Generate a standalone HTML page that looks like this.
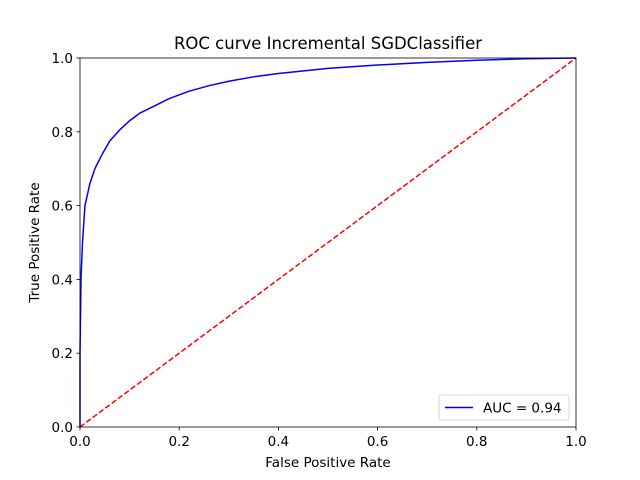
<!DOCTYPE html>
<html><head><meta charset="utf-8"><style>body{margin:0;background:#fff}svg{display:block}text{font-family:"DejaVu Sans","Liberation Sans",sans-serif}</style></head>
<body>
<svg id="chart" width="640" height="480"></svg>
<script>
const fprValues=[0,0,0.002,0.005,0.01,0.02,0.03,0.045,0.06,0.08,0.1,0.12,0.15,0.18,0.22,0.26,0.3,0.35,0.4,0.5,0.6,0.7,0.8,0.9,1];
const tprValues=[0,0.2,0.4,0.5,0.6,0.66,0.7,0.74,0.775,0.805,0.83,0.85,0.87,0.89,0.91,0.925,0.937,0.949,0.958,0.972,0.981,0.988,0.994,0.998,1];
const tickValues=[0,0.2,0.4,0.6,0.8,1];
const tickLabels=["0.0","0.2","0.4","0.6","0.8","1.0"];
const aucLabel="AUC = 0.94";
const L=80,R=576,T=58,B=427;
const sx=v=>L+v*(R-L), sy=v=>B-v*(B-T);
const svg=document.getElementById('chart');
const NS='http://www.w3.org/2000/svg';
function mk(tag,attrs,parent){const e=document.createElementNS(NS,tag);for(const k in attrs)e.setAttribute(k,attrs[k]);(parent||svg).appendChild(e);return e;}
let e;
e=mk('rect',{x:L,y:T,width:R-L,height:B-T,fill:'#fff'});


e=mk('line',{x1:sx(0),y1:sy(0),x2:sx(1),y2:sy(1),stroke:'red','stroke-width':1.5,'stroke-dasharray':'5.5,2.4'});


e=mk('polyline',{points:fprValues.map((f,i)=>sx(f)+','+sy(tprValues[i])).join(' '),fill:'none',stroke:'blue','stroke-width':1.5,'stroke-linejoin':'round'});


e=mk('rect',{x:L,y:T,width:R-L,height:B-T,fill:'none',stroke:'#000','stroke-width':0.8});


tickValues.forEach((v,i)=>{
 let t=mk('line',{x1:sx(v),y1:B,x2:sx(v),y2:B+3.5,stroke:'#000','stroke-width':0.8});
 
 
 t=mk('text',{x:sx(v),y:B+19,'font-size':13.5,'text-anchor':'middle'});t.textContent=tickLabels[i];
 
 
 t=mk('line',{x1:L-3.5,y1:sy(v),x2:L,y2:sy(v),stroke:'#000','stroke-width':0.8});
 
 
 t=mk('text',{x:L-7,y:sy(v)+5,'font-size':13.5,'text-anchor':'end'});t.textContent=tickLabels[i];
 
 
});
e=mk('text',{x:(L+R)/2,y:49,'font-size':16.5,'text-anchor':'middle'});e.textContent='ROC curve Incremental SGDClassifier';


e=mk('text',{x:(L+R)/2,y:467,'font-size':13.5,'text-anchor':'middle'});e.textContent='False Positive Rate';


e=mk('text',{x:39,y:(T+B)/2,'font-size':13.5,'text-anchor':'middle',transform:'rotate(-90 39 '+((T+B)/2)+')'});e.textContent='True Positive Rate';


const g=mk('g',{});


mk('rect',{x:439,y:395,width:130,height:25,rx:2,fill:'#fff',stroke:'#ccc','stroke-width':0.8},g);
e=mk('line',{x1:445,y1:407.5,x2:473,y2:407.5,stroke:'blue','stroke-width':1.5},g);


e=mk('text',{x:483,y:412.5,'font-size':13.5},g);e.textContent=aucLabel;


</script>
</body></html>
